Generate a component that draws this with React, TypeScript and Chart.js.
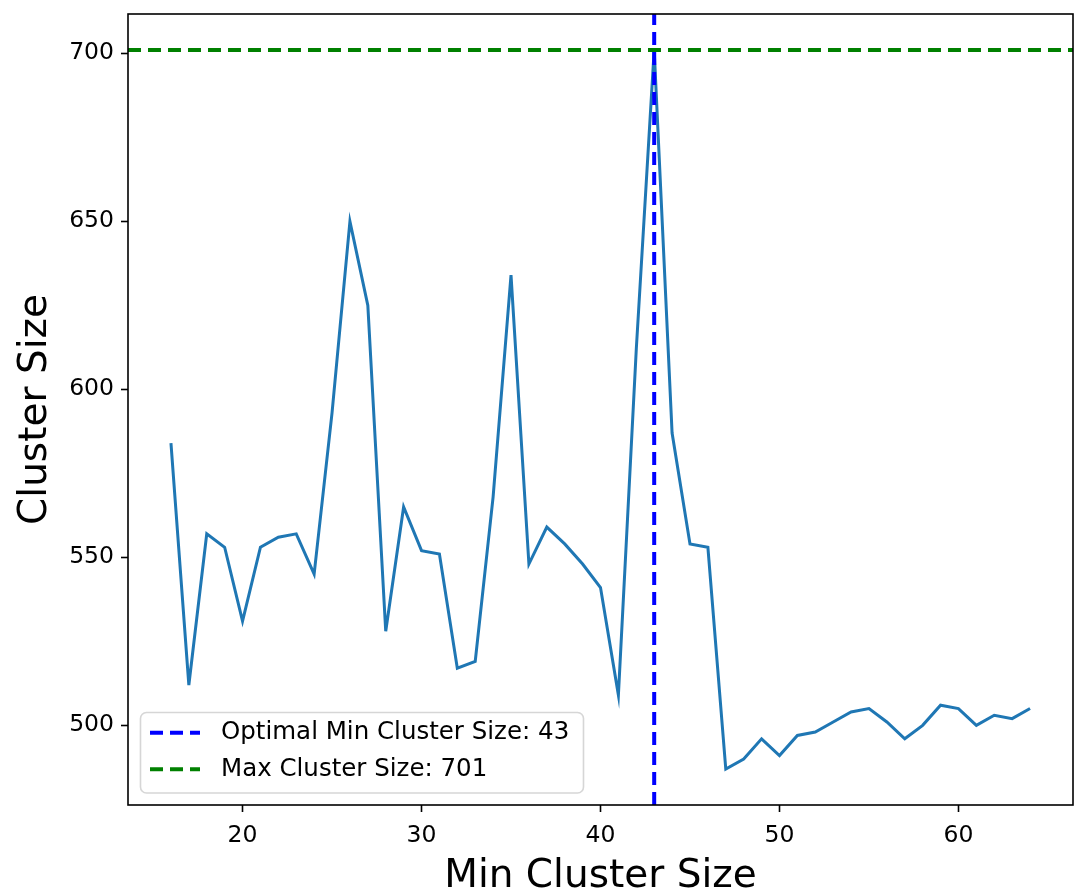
import React, { useEffect, useRef } from "react";
import { Chart, registerables } from "chart.js";

Chart.register(...registerables);

// ---- data ----
const minClusterSizes = [
  16, 17, 18, 19, 20, 21, 22, 23, 24, 25, 26, 27, 28, 29, 30, 31, 32,
  33, 34, 35, 36, 37, 38, 39, 40, 41, 42, 43, 44, 45, 46, 47, 48, 49,
  50, 51, 52, 53, 54, 55, 56, 57, 58, 59, 60, 61, 62, 63, 64,
];
const clusterSizes = [
  584, 512, 557, 553, 531, 553, 556, 557, 545, 593, 650, 625, 528, 565, 552, 551, 517,
  519, 568, 634, 548, 559, 554, 548, 541, 509, 612, 701, 587, 554, 553, 487, 490, 496,
  491, 497, 498, 501, 504, 505, 501, 496, 500, 506, 505, 500, 503, 502, 505,
];
const optimalMinClusterSize = 43;
const maxClusterSize = 701;
const xTicks = [20, 30, 40, 50, 60];
const yTicks = [500, 550, 600, 650, 700];
const legendLabels = [
  "Optimal Min Cluster Size: 43",
  "Max Cluster Size: 701",
];
const xTitle = "Min Cluster Size";
const yTitle = "Cluster Size";

// matplotlib-like 5% margins
const xLo = Math.min(...minClusterSizes);
const xHi = Math.max(...minClusterSizes);
const yLo = Math.min(...clusterSizes);
const yHi = Math.max(...clusterSizes);
const xMin = xLo - 0.05 * (xHi - xLo);
const xMax = xHi + 0.05 * (xHi - xLo);
const yMin = yLo - 0.05 * (yHi - yLo);
const yMax = yHi + 0.05 * (yHi - yLo);

const FONT = "'DejaVu Sans', sans-serif";
const DASH = [13, 7];

const framePlugin = {
  id: "frame",
  afterDatasetsDraw(chart: any) {
    const { ctx, chartArea } = chart;
    ctx.save();
    ctx.strokeStyle = "#000";
    ctx.lineWidth = 1.6;
    ctx.strokeRect(
      chartArea.left,
      chartArea.top,
      chartArea.right - chartArea.left,
      chartArea.bottom - chartArea.top
    );
    ctx.restore();
  },
};

const legendPlugin = {
  id: "refLegend",
  afterDraw(chart: any) {
    const { ctx, chartArea } = chart;
    const bx = chartArea.left + 12.5;
    const by = chartArea.bottom - 92.5;
    const bw = 443;
    const bh = 80.5;
    ctx.save();
    ctx.beginPath();
    ctx.roundRect(bx, by, bw, bh, 6);
    ctx.fillStyle = "rgba(255,255,255,0.8)";
    ctx.fill();
    ctx.lineWidth = 1.6;
    ctx.strokeStyle = "rgba(204,204,204,0.8)";
    ctx.stroke();
    const items = legendLabels
      .map((lbl) => chart.data.datasets.find((d: any) => d.label === lbl))
      .filter(Boolean);
    items.forEach((d: any, i: number) => {
      const cy = chartArea.bottom - 72.3 + i * 36.6;
      ctx.beginPath();
      ctx.setLineDash(d.borderDash || []);
      ctx.lineWidth = d.borderWidth;
      ctx.strokeStyle = d.borderColor;
      ctx.lineCap = "butt";
      ctx.moveTo(chartArea.left + 22, cy);
      ctx.lineTo(chartArea.left + 72, cy);
      ctx.stroke();
      ctx.setLineDash([]);
      ctx.fillStyle = "#000";
      ctx.font = `24.5px ${FONT}`;
      ctx.textBaseline = "middle";
      ctx.textAlign = "left";
      ctx.fillText(d.label, chartArea.left + 93, cy);
    });
    ctx.restore();
  },
};

export default function App() {
  const ref = useRef<HTMLCanvasElement>(null);
  useEffect(() => {
    const chart = new Chart(ref.current!, {
      type: "line",
      data: {
        datasets: [
          {
            label: legendLabels[1],
            data: [
              { x: xMin, y: maxClusterSize },
              { x: xMax, y: maxClusterSize },
            ],
            borderColor: "#008000",
            borderWidth: 4,
            borderDash: DASH,
            pointRadius: 0,
            order: 0,
          } as any,
          {
            label: legendLabels[0],
            data: [
              { x: optimalMinClusterSize, y: yMin },
              { x: optimalMinClusterSize, y: yMax },
            ],
            borderColor: "#0000ff",
            borderWidth: 4,
            borderDash: DASH,
            pointRadius: 0,
            order: 1,
          } as any,
          {
            label: "Cluster Size",
            data: minClusterSizes.map((x, i) => ({ x, y: clusterSizes[i] })),
            borderColor: "#1f77b4",
            borderWidth: 3,
            pointRadius: 0,
            tension: 0,
            order: 2,
          } as any,
        ],
      },
      options: {
        animation: false,
        responsive: false,
        events: [],
        layout: { padding: { top: 14, right: 1, left: 0, bottom: 0 } },
        plugins: {
          legend: { display: false },
          tooltip: { enabled: false },
        },
        scales: {
          x: {
            type: "linear",
            min: xMin,
            max: xMax,
            afterFit: (s: any) => {
              s.height = 88;
              s.paddingLeft = 0;
              s.paddingRight = 0;
            },
            afterBuildTicks: (s: any) => {
              s.ticks = xTicks.map((v) => ({ value: v }));
            },
            grid: {
              display: true,
              drawOnChartArea: false,
              drawTicks: true,
              tickLength: 7,
              tickWidth: 1.6,
              tickColor: "#000",
            },
            border: { display: false },
            ticks: {
              color: "#000",
              font: { family: FONT, size: 23.5 },
              padding: 10,
              maxRotation: 0,
              autoSkip: false,
            },
            title: {
              display: true,
              text: xTitle,
              color: "#000",
              font: { family: FONT, size: 39, lineHeight: 0.8 },
              padding: { top: 0, bottom: 1 },
            },
          },
          y: {
            type: "linear",
            min: yMin,
            max: yMax,
            afterFit: (s: any) => {
              s.width = 128;
              s.paddingTop = 0;
              s.paddingBottom = 0;
            },
            afterBuildTicks: (s: any) => {
              s.ticks = yTicks.map((v) => ({ value: v }));
            },
            grid: {
              display: true,
              drawOnChartArea: false,
              drawTicks: true,
              tickLength: 7,
              tickWidth: 1.6,
              tickColor: "#000",
            },
            border: { display: false },
            ticks: {
              color: "#000",
              font: { family: FONT, size: 23.5 },
              padding: 7,
              autoSkip: false,
            },
            title: {
              display: true,
              text: yTitle,
              color: "#000",
              font: { family: FONT, size: 39, lineHeight: 1 },
              padding: { top: 16, bottom: 0 },
            },
          },
        },
      },
      plugins: [framePlugin, legendPlugin],
    });
    return () => chart.destroy();
  }, []);
  return (
    <div style={{ position: "absolute", left: 0, top: 0, width: 1074, height: 893, background: "#fff" }}>
      <canvas ref={ref} width={1074} height={893} />
    </div>
  );
}
